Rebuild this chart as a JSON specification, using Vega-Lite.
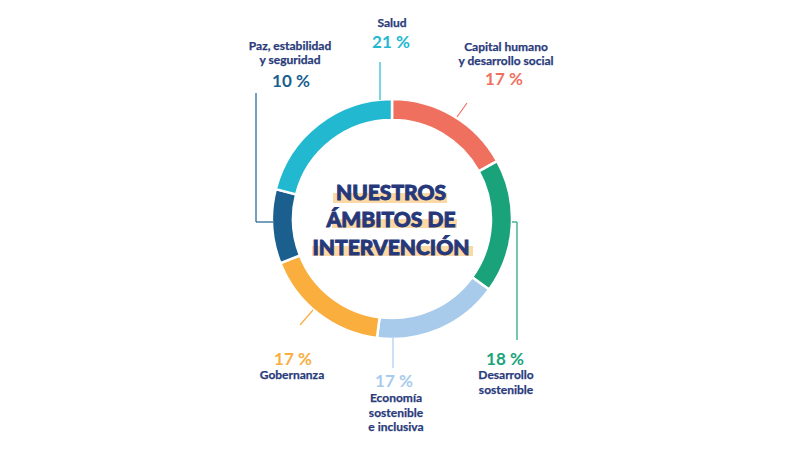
{
  "$schema": "https://vega.github.io/schema/vega-lite/v6.json",
  "width": 792,
  "height": 450,
  "autosize": {"type": "fit", "contains": "padding"},
  "padding": {"left": 0, "top": 0, "right": 8, "bottom": 12},
  "background": "white",
  "config": {"view": {"stroke": null}, "font": "Lato"},
  "datasets": {
    "slices": [
      {"cat": "capital", "pct": 17, "ord": 1},
      {"cat": "desarrollo", "pct": 18, "ord": 2},
      {"cat": "economia", "pct": 17, "ord": 3},
      {"cat": "gobernanza", "pct": 17, "ord": 4},
      {"cat": "paz", "pct": 10, "ord": 5},
      {"cat": "salud", "pct": 21, "ord": 6}
    ],
    "names": [
      {"t": "Salud", "x": 0, "y": 196},
      {"t": "Paz, estabilidad", "x": -102, "y": 173},
      {"t": "y seguridad", "x": -102, "y": 159},
      {"t": "Capital humano", "x": 114, "y": 172},
      {"t": "y desarrollo social", "x": 114, "y": 158},
      {"t": "Desarrollo", "x": 114, "y": -156},
      {"t": "sostenible", "x": 114, "y": -171},
      {"t": "Economía", "x": 4, "y": -179},
      {"t": "sostenible", "x": 4, "y": -194},
      {"t": "e inclusiva", "x": 4, "y": -208},
      {"t": "Gobernanza", "x": -100, "y": -156}
    ],
    "pcts": [
      {"cat": "salud", "t": "21 %", "x": -1, "y": 176},
      {"cat": "paz", "t": "10 %", "x": -101, "y": 137},
      {"cat": "capital", "t": "17 %", "x": 112, "y": 139},
      {"cat": "desarrollo", "t": "18 %", "x": 113, "y": -141},
      {"cat": "economia", "t": "17 %", "x": 2, "y": -163},
      {"cat": "gobernanza", "t": "17 %", "x": -99, "y": -141}
    ],
    "leaders": [
      {"cat": "salud", "x": -12, "y": 157, "x2": -12, "y2": 119},
      {"cat": "capital", "x": 75, "y": 116, "x2": 65, "y2": 102},
      {"cat": "paz", "x": -136, "y": 126, "x2": -136, "y2": -3},
      {"cat": "paz", "x": -136, "y": -3, "x2": -119, "y2": -3},
      {"cat": "desarrollo", "x": 120, "y": -3, "x2": 125, "y2": -3},
      {"cat": "desarrollo", "x": 125, "y": -3, "x2": 125, "y2": -121},
      {"cat": "economia", "x": 1, "y": -119, "x2": 1, "y2": -149},
      {"cat": "gobernanza", "x": -92, "y": -106, "x2": -79, "y2": -91}
    ],
    "bars": [
      {"x": -59, "x2": 55, "y": 26, "y2": 16},
      {"x": -60, "x2": 65, "y": 0, "y2": -9},
      {"x": -80, "x2": 81, "y": -27, "y2": -37}
    ],
    "title": [
      {"t": "NUESTROS", "x": -1, "y": 25.5},
      {"t": "ÁMBITOS DE", "x": -1, "y": -2},
      {"t": "INTERVENCIÓN", "x": -1, "y": -29.5}
    ]
  },
  "resolve": {"scale": {"color": "shared"}},
  "layer": [
    {
      "data": {"name": "slices"},
      "mark": {"type": "arc", "outerRadius": 120, "innerRadius": 99, "stroke": "white", "strokeWidth": 2.5},
      "encoding": {
        "theta": {"field": "pct", "type": "quantitative", "stack": true},
        "order": {"field": "ord", "type": "quantitative"},
        "color": {
          "field": "cat", "type": "nominal", "legend": null,
          "scale": {
            "domain": ["salud", "capital", "desarrollo", "economia", "gobernanza", "paz"],
            "range": ["#22B8CF", "#F0705F", "#1AA37B", "#A8CBEC", "#F9AE3E", "#1B5F8F"]
          }
        }
      }
    },
    {
      "data": {"name": "leaders"},
      "mark": {"type": "rule", "strokeWidth": 1.2},
      "encoding": {
        "x": {"field": "x", "type": "quantitative", "scale": {"domain": [-392, 392], "nice": false, "zero": false}, "axis": null},
        "y": {"field": "y", "type": "quantitative", "scale": {"domain": [-219, 219], "nice": false, "zero": false}, "axis": null},
        "x2": {"field": "x2"},
        "y2": {"field": "y2"},
        "color": {"field": "cat", "type": "nominal", "legend": null}
      }
    },
    {
      "data": {"name": "bars"},
      "mark": {"type": "rect", "color": "#FBD8A4"},
      "encoding": {
        "x": {"field": "x", "type": "quantitative"},
        "x2": {"field": "x2"},
        "y": {"field": "y", "type": "quantitative"},
        "y2": {"field": "y2"}
      }
    },
    {
      "data": {"name": "title"},
      "mark": {"type": "text", "font": "Lato", "fontWeight": 900, "fontSize": 21, "color": "#263879", "stroke": "#263879", "strokeWidth": 0.9, "baseline": "middle", "align": "center"},
      "encoding": {
        "x": {"field": "x", "type": "quantitative"},
        "y": {"field": "y", "type": "quantitative"},
        "text": {"field": "t"}
      }
    },
    {
      "data": {"name": "names"},
      "mark": {"type": "text", "font": "Lato", "fontWeight": "bold", "fontSize": 12, "color": "#2A3B7B", "stroke": "#2A3B7B", "strokeWidth": 0.25, "baseline": "middle", "align": "center"},
      "encoding": {
        "x": {"field": "x", "type": "quantitative"},
        "y": {"field": "y", "type": "quantitative"},
        "text": {"field": "t"}
      }
    },
    {
      "data": {"name": "pcts"},
      "mark": {"type": "text", "font": "Lato", "fontWeight": "bold", "fontSize": 17, "baseline": "middle", "align": "center"},
      "encoding": {
        "x": {"field": "x", "type": "quantitative"},
        "y": {"field": "y", "type": "quantitative"},
        "text": {"field": "t"},
        "color": {"field": "cat", "type": "nominal", "legend": null}
      }
    }
  ]
}
